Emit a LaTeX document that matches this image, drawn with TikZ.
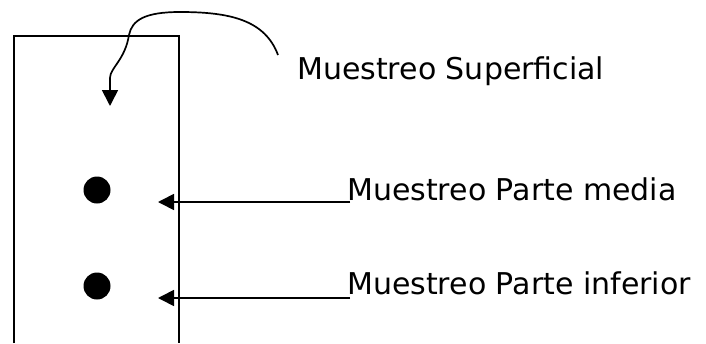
\documentclass[tikz,border=0pt]{standalone}
\usepackage{fontspec}
\setmainfont{DejaVu Sans}
\usetikzlibrary{arrows.meta}
\begin{document}
\begin{tikzpicture}[x=1pt,y=-1pt,
  ln/.style={line width=1.7pt},
  arr/.style={ln,-{Triangle[length=16pt,width=16pt]}},
  dot/.style={circle,fill=black,inner sep=0pt,minimum size=27pt},
  lbl/.style={anchor=base west,inner sep=0pt,font=\fontsize{30}{34}\selectfont}]
\useasboundingbox (0,0) rectangle (706,343);
\draw[ln] (14,343) -- (14,36) -- (179,36) -- (179,343);
\node[dot] (d1) at (97,190) {};
\node[dot] (d2) at (97,286) {};
\node[lbl] (t1) at (297,79) {Muestreo Superficial};
\node[lbl] (t2) at (347,200) {Muestreo Parte media};
\node[lbl] (t3) at (347,294) {Muestreo Parte inferior};
\coordinate (s1) at (278,55);
\coordinate (e1) at (110,106);
\coordinate (s2) at (350,202);
\coordinate (e2) at (158,202);
\coordinate (s3) at (350,298);
\coordinate (e3) at (158,298);
\draw[arr] (s1) .. controls (265,20) and (230,12) .. (180,12)
  .. controls (145,12) and (132,20) .. (129,35)
  .. controls (125,60) and (110,68) .. (110,78) -- (e1);
\draw[arr] (s2) -- (e2);
\draw[arr] (s3) -- (e3);
\end{tikzpicture}
\end{document}
